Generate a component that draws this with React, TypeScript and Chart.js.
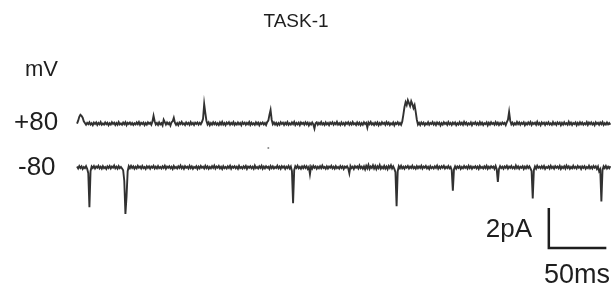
import React, { useEffect, useRef } from "react";
import { Chart, registerables } from "chart.js";

Chart.register(...registerables);

// Single-channel recording, TASK-1.
const SAMPLE_MS = 1; // sampling interval of the traces below
const TITLE = "TASK-1";
const UNIT_LABEL = "mV";
const HOLDING_LABELS = ["+80", "-80"];
const SCALE_Y_LABEL = "2pA";
const SCALE_X_LABEL = "50ms";
const SCALE_PA = 2;
const SCALE_MS = 50;

// +80 mV trace, current in units of 0.01 pA (outward openings)
const tracePlus80 = [
  0, 15, 35, 45, 40, 30, 12, 3, -6, 4, -3, 7, -5, 2, -8, 5, -2, 6, -7, 3, -4, 8, -6, 1, -5,
  6, -3, 4, -8, 2, -5, 7, -2, 5, -7, 3, -6, 8, -4, 1, -6, 5, -3, 7, -8, 4, -2, 6, -5, 3,
  -7, 2, -4, 6, -3, 8, -6, 4, -2, 5, -8, 3, -5, 7, -1, 4, -6, 10, 40, 12, -5, 3, -7, 6, -4,
  2, -9, 20, 8, -5, 6, -3, 4, -10, 7, 12, 30, 5, -6, 3, -8, 5, -2, 9, -4, 2, -7, 6, -3, 4,
  -6, 8, -4, 3, -7, 5, -2, 6, -5, 4, -3, 8, 25, 100, 55, 15, -4, 6, -8, 3, -5, 7, -3, 5, -6,
  2, -7, 6, -4, 9, -5, 3, -8, 5, -2, 7, -6, 4, -3, 8, -7, 2, -5, 6, -4, 3, -8, 7, -2, 5,
  -6, 4, -3, 8, -7, 5, -4, 2, -6, 7, -3, 5, -8, 4, -2, 6, -5, 3, -7, 8, 15, 45, 70, 20, -3,
  6, -5, 4, -8, 3, -6, 7, -2, 5, -7, 4, -4, 8, -6, 2, -5, 6, -3, 9, -7, 3, -4, 5, -8, 6,
  -2, 4, -6, 7, -3, 5, -9, 3, -5, 6, -4, -25, 2, 7, -6, 4, -3, 8, -5, 2, -7, 6, -4, 3, -8,
  5, -2, 7, -6, 4, -3, 9, -5, 2, -7, 6, -4, 3, -8, 5, -2, 7, -6, 4, -5, 8, -3, 2, -7, 6,
  -4, 5, -8, 3, -6, 7, -2, 4, -20, 6, -3, 8, -5, 2, -7, 5, -4, 6, -8, 3, -5, 7, -2, 4, -6,
  8, -3, 5, -7, 2, -4, 6, -9, 4, -2, 7, -5, 3, -6, 10, 45, 85, 110, 95, 120, 105, 90, 115, 100, 80,
  95, 60, 20, -5, 4, -7, 6, -3, 5, -8, 2, -4, 7, -6, 3, -2, 8, -5, 4, -7, 6, -3, 5, -9, 3,
  -5, 7, -2, 4, -6, 8, -4, 3, -7, 5, -3, 6, -8, 2, -5, 7, -4, 4, -6, 9, -3, 5, -7, 2, -4,
  6, -8, 4, -2, 7, -5, 3, -6, 8, -4, 5, -7, 2, -3, 6, -9, 4, -5, 7, -2, 3, -6, 8, -4, 5,
  -7, 3, -5, 6, -2, 4, -8, 7, 20, 60, 15, -4, 5, -7, 2, -5, 8, -3, 6, -6, 4, -2, 7, -8, 3,
  -5, 6, -3, 8, -7, 4, -2, 5, -6, 9, -4, 3, -8, 6, -2, 5, -7, 4, -3, 7, -5, 2, -6, 8, -4,
  3, -7, 6, -2, 5, -8, 4, -5, 7, -3, 2, -6, 9, -4, 5, -7, 3, -2, 6, -8, 4, -5, 7, -3, 5,
  -6, 2, -4, 8, -7, 5, -3, 6, -5, 3, -8, 7, -2, 4, -6, 5, -3, 8, -7, 2, -5, 6, -4, 3, -6,
];

// -80 mV trace, current in units of 0.01 pA (inward openings)
const traceMinus80 = [
  4, -6, 7, -3, 5, -8, 2, -4, 6, -7, -30, -205, -20, 5, -3, 7, -6, 4, -2, 8, -5, 3, -7, 6, -4,
  2, -8, 5, -3, 7, -6, 4, -2, 9, -5, 3, -7, 6, -4, 2, -6, -15, -70, -240, -150, -20, 6, -4, 8, -3,
  5, -7, 3, -5, 8, -2, 4, -6, 7, -4, 2, -8, 6, -3, 5, -7, 4, -2, 8, -6, 3, -5, 7, -4, 2,
  -6, 5, -3, 8, -7, 4, -2, 6, -5, 3, -8, 7, -4, 2, -6, 5, -3, 9, -5, 4, -7, 6, -2, 3, -6,
  8, -4, 5, -7, 2, -3, 6, -8, 4, -5, 7, -2, 3, -6, 8, -4, 5, -7, 2, -5, 6, -3, 9, -6, 4,
  -2, 7, -5, 3, -8, 6, -4, 2, -6, 5, -3, 8, -7, 4, -2, 6, -5, 3, -7, 8, -4, 2, -6, 5, -3,
  7, -8, 4, -2, 6, -5, 3, -7, 9, -4, 2, -6, 5, -3, 8, -7, 4, -5, 6, -2, 3, -8, 7, -4, 5,
  -6, 2, -3, 8, -5, 4, -7, 6, -2, 5, -8, 3, -4, 7, -6, 4, -20, -185, -15, 6, -3, 8, -5, 2, -7,
  5, -4, 7, -3, 6, -8, 2, -35, 4, -6, 8, -2, 5, -7, 3, -5, 6, -4, 9, -3, 2, -7, 5, -6, 4,
  -2, 8, -5, 3, -7, 6, -4, 2, -6, 7, -3, 5, -8, 4, -2, 6, -5, -30, 7, -4, 3, -8, 6, -2, 5,
  -6, 9, -4, 3, -7, 5, -10, 8, -5, 12, -8, 4, -3, 10, -6, 7, -9, 5, -4, 11, -7, 3, -5, 8, -6,
  4, -9, 7, -3, 10, -6, 5, -8, -25, -200, -20, 6, -4, 8, -5, 3, -7, 5, -2, 7, -6, 4, -3, 8, -5,
  2, -7, 6, -4, 5, -3, 8, -6, 4, -2, 7, -5, 3, -8, 6, -4, 2, -6, 5, -3, 9, -7, 4, -5, 6,
  -2, 8, -6, 3, -4, 7, -5, 2, -15, -120, -10, 5, -7, 4, -3, 6, -8, 2, -5, 7, -3, 4, -6, 8, -4,
  5, -7, 3, -2, 6, -5, 4, -8, 7, -3, 2, -6, 5, -4, 8, -7, 3, -5, 6, -2, 4, -8, 7, -10, -75,
  -8, 6, -4, 3, -7, 5, -2, 8, -6, 4, -3, 7, -5, 2, -6, 9, -4, 5, -7, 3, -2, 6, -8, 4, -5,
  7, -3, 5, -6, -20, -160, -15, 4, -7, 8, -2, 3, -5, 6, -4, 7, -8, 2, -3, 5, -6, 8, -4, 3, -7,
  6, -2, 4, -5, 7, -8, 3, -4, 6, -6, 9, -3, 5, -7, 2, -5, 8, -4, 3, -6, 7, -2, 4, -8, 5,
  -3, 6, -7, 2, -4, 8, -5, 3, -6, 7, -2, 5, -8, 4, -20, -10, -175, -15, 5, -4, 7, -6, 3, -5, 6,
];

// stray dust speck in the figure (ms, pA relative to the +80 baseline)
const speckMs = [170];
const speckPa = [-1.25];

// display layout: pA offsets of the two traces, scale-bar anchor
const OFFSET_PLUS = 0;
const OFFSET_MINUS = -2.25;
const BAR_X_MS = 419.3;
const BAR_Y_PA = -6.4;

export default function App() {
  const ref = useRef<HTMLCanvasElement | null>(null);

  useEffect(() => {
    const canvas = ref.current;
    if (!canvas) return;

    const toPts = (arr: number[], off: number) =>
      arr.map((v, i) => ({ x: i * SAMPLE_MS, y: v / 100 + off }));

    const labels = {
      id: "labels",
      afterDraw(chart: any) {
        const ctx = chart.ctx;
        ctx.save();
        ctx.fillStyle = "#1e1e1e";
        ctx.textBaseline = "middle";
        ctx.textAlign = "center";
        ctx.font = '19px "Liberation Sans", Arial, sans-serif';
        ctx.fillText(TITLE, 296, 22);
        ctx.textAlign = "left";
        ctx.font = '22px "Liberation Sans", Arial, sans-serif';
        ctx.fillText(UNIT_LABEL, 25, 70);
        ctx.font = '26px "Liberation Sans", Arial, sans-serif';
        ctx.fillText(HOLDING_LABELS[0], 14, 123);
        ctx.fillText(HOLDING_LABELS[1], 18, 168);
        ctx.textAlign = "right";
        ctx.fillText(SCALE_Y_LABEL, 532, 230);
        ctx.textAlign = "left";
        ctx.font = '27px "Liberation Sans", Arial, sans-serif';
        ctx.fillText(SCALE_X_LABEL, 544, 276);
        ctx.restore();
      },
    };

    const traceStyle = {
      borderColor: "rgba(20,20,20,0.88)",
      borderWidth: 1.9,
      pointRadius: 0,
      tension: 0,
    };

    const chart = new Chart(canvas, {
      type: "line",
      data: {
        datasets: [
          { data: toPts(tracePlus80, OFFSET_PLUS), ...traceStyle },
          { data: toPts(traceMinus80, OFFSET_MINUS), ...traceStyle },
          {
            data: [
              { x: BAR_X_MS, y: BAR_Y_PA + SCALE_PA },
              { x: BAR_X_MS, y: BAR_Y_PA },
              { x: BAR_X_MS + SCALE_MS, y: BAR_Y_PA },
            ],
            borderColor: "#1e1e1e",
            borderWidth: 2.5,
            pointRadius: 0,
            tension: 0,
            borderCapStyle: "square",
          },
          {
            type: "scatter",
            data: speckMs.map((x, i) => ({ x, y: speckPa[i] })),
            pointRadius: 1,
            backgroundColor: "rgba(90,90,90,0.7)",
            borderWidth: 0,
          },
        ] as any,
      },
      options: {
        animation: false,
        responsive: false,
        devicePixelRatio: 1,
        layout: { padding: 0 },
        plugins: { legend: { display: false }, tooltip: { enabled: false }, title: { display: false } },
        scales: {
          x: { type: "linear", min: -64.91, max: 474.56, display: false },
          y: { type: "linear", min: -8.3, max: 6.15, display: false },
        },
      },
      plugins: [labels],
    });
    return () => chart.destroy();
  }, []);

  return (
    <div style={{ position: "fixed", left: 0, top: 0, width: 615, height: 289, background: "#fff" }}>
      <canvas ref={ref} width={615} height={289} style={{ display: "block" }} />
    </div>
  );
}
